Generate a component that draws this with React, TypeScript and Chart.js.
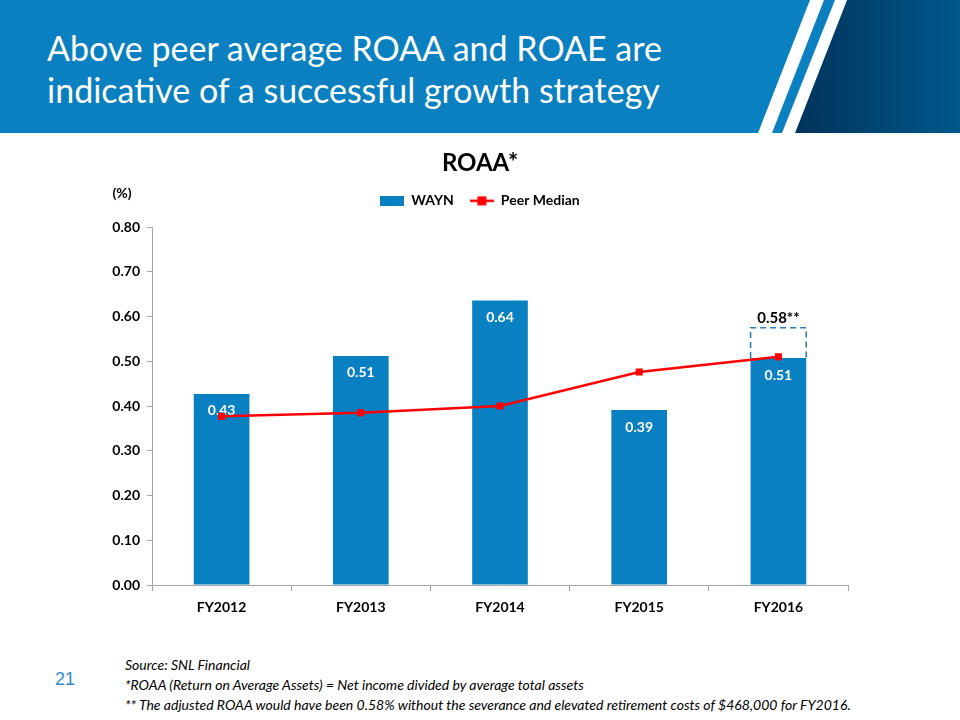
import React, { useEffect, useRef } from "react";
import { Chart, registerables } from "chart.js";

Chart.register(...registerables);

const categories = ["FY2012", "FY2013", "FY2014", "FY2015", "FY2016"];
const waynValues = [0.427, 0.512, 0.636, 0.391, 0.507];
const peerMedianValues = [0.377, 0.385, 0.4, 0.476, 0.51];
const yTickMin = 0;
const yTickMax = 0.8;
const yTickStep = 0.1;
const adjustedIndex = 4;
const adjustedValue = 0.575;
const adjustedLabel = "0.58**";

const titleLines = ["Above peer average ROAA and ROAE are", "indicative of a successful growth strategy"];
const footnotes = [
  "Source: SNL Financial",
  "*ROAA (Return on Average Assets) = Net income divided by average total assets",
  "** The adjusted ROAA would have been 0.58% without the severance and elevated retirement costs of $468,000 for FY2016.",
];
const pageNumber = "21";

const FONT = "Lato, 'Noto Sans', sans-serif";
const BAR_COLOR = "#0880c1";
const LINE_COLOR = "#ff0000";

function makeLegendIcon(kind: "bar" | "line"): HTMLCanvasElement {
  const c = document.createElement("canvas");
  c.width = 24;
  c.height = 10;
  const g = c.getContext("2d")!;
  if (kind === "bar") {
    g.fillStyle = BAR_COLOR;
    g.fillRect(0, 0, 24, 10);
  } else {
    g.strokeStyle = LINE_COLOR;
    g.lineWidth = 2.5;
    g.beginPath();
    g.moveTo(0, 5);
    g.lineTo(24, 5);
    g.stroke();
    g.fillStyle = LINE_COLOR;
    g.fillRect(7.5, 0.5, 9, 9);
  }
  return c;
}

const extrasPlugin = {
  id: "extras",
  afterDatasetDraw(chart: any, args: any) {
    if (args.index !== 0) return;
    const ctx = chart.ctx;
    const meta = chart.getDatasetMeta(0);
    const yScale = chart.scales.y;
    ctx.save();
    ctx.font = `bold 14px ${FONT}`;
    ctx.fillStyle = "#ffffff";
    ctx.textAlign = "center";
    ctx.textBaseline = "middle";
    meta.data.forEach((bar: any, i: number) => {
      ctx.fillText(waynValues[i].toFixed(2), bar.x, bar.y + 17);
    });
    const bar = meta.data[adjustedIndex];
    const half = bar.width / 2;
    const yTop = yScale.getPixelForValue(adjustedValue);
    const yBot = bar.y;
    ctx.strokeStyle = "#2b7fb3";
    ctx.lineWidth = 1.6;
    ctx.setLineDash([6, 4]);
    ctx.beginPath();
    ctx.moveTo(bar.x - half, yBot);
    ctx.lineTo(bar.x - half, yTop);
    ctx.lineTo(bar.x + half, yTop);
    ctx.lineTo(bar.x + half, yBot);
    ctx.stroke();
    ctx.setLineDash([]);
    ctx.fillStyle = "#000000";
    ctx.font = `bold 15px ${FONT}`;
    ctx.textBaseline = "bottom";
    ctx.fillText(adjustedLabel, bar.x, yTop - 2);
    ctx.restore();
  },
  afterDraw(chart: any) {
    const ctx = chart.ctx;
    const area = chart.chartArea;
    ctx.save();
    ctx.font = `bold 14px ${FONT}`;
    ctx.fillStyle = "#000000";
    ctx.textAlign = "center";
    ctx.textBaseline = "middle";
    ctx.fillText("(%)", area.left - 30, area.top - 34);
    ctx.restore();
  },
};

function ChartView() {
  const ref = useRef<HTMLCanvasElement | null>(null);
  useEffect(() => {
    if (!ref.current) return;
    const barIcon = makeLegendIcon("bar");
    const lineIcon = makeLegendIcon("line");
    const chart = new Chart(ref.current, {
      type: "bar",
      data: {
        labels: categories,
        datasets: [
          {
            type: "bar",
            label: "WAYN",
            data: waynValues,
            backgroundColor: BAR_COLOR,
            borderWidth: 0,
            categoryPercentage: 1,
            barPercentage: 0.4,
            order: 1,
          },
          {
            type: "line",
            label: "Peer Median",
            data: peerMedianValues,
            borderColor: LINE_COLOR,
            backgroundColor: LINE_COLOR,
            borderWidth: 2.5,
            pointStyle: "rect",
            pointRadius: 5,
            pointBackgroundColor: LINE_COLOR,
            pointBorderWidth: 0,
            tension: 0,
            order: 0,
          },
        ] as any,
      },
      plugins: [extrasPlugin],
      options: {
        animation: false,
        responsive: false,
        maintainAspectRatio: false,
        layout: { padding: { left: 112, right: 112, top: 0, bottom: 15 } },
        plugins: {
          title: {
            display: true,
            text: "ROAA*",
            color: "#000000",
            font: { family: FONT, size: 24, weight: "bold" },
            padding: { top: 9, bottom: 0 },
          },
          subtitle: {
            display: true,
            text: " ",
            weight: 500,
            font: { size: 1 },
            padding: { top: 4, bottom: 4 },
          },
          legend: {
            display: true,
            labels: {
              color: "#000000",
              font: { family: FONT, size: 14, weight: "bold" },
              usePointStyle: true,
              pointStyleWidth: 24,
              boxWidth: 24,
              boxHeight: 10,
              padding: 16,
              generateLabels() {
                return [
                  {
                    text: "WAYN",
                    fillStyle: BAR_COLOR,
                    strokeStyle: BAR_COLOR,
                    lineWidth: 0,
                    pointStyle: barIcon,
                    datasetIndex: 0,
                    fontColor: "#000000",
                  },
                  {
                    text: "Peer Median",
                    fillStyle: LINE_COLOR,
                    strokeStyle: LINE_COLOR,
                    lineWidth: 0,
                    pointStyle: lineIcon,
                    datasetIndex: 1,
                    fontColor: "#000000",
                  },
                ];
              },
            },
          },
          tooltip: { enabled: false },
        },
        scales: {
          x: {
            type: "category",
            offset: true,
            grid: {
              display: true,
              drawOnChartArea: false,
              drawTicks: true,
              tickLength: 6,
              color: "#a6a6a6",
              offset: true,
            },
            border: { display: true, color: "#a6a6a6", width: 1 },
            ticks: {
              color: "#000000",
              font: { family: FONT, size: 14, weight: "bold" },
              padding: 8,
            },
            afterFit(axis: any) {
              axis.height = 40;
            },
          },
          y: {
            type: "linear",
            min: yTickMin,
            max: yTickMax,
            grid: {
              display: true,
              drawOnChartArea: false,
              drawTicks: true,
              tickLength: 5,
              color: "#a6a6a6",
            },
            border: { display: true, color: "#a6a6a6", width: 1 },
            ticks: {
              stepSize: yTickStep,
              color: "#000000",
              font: { family: FONT, size: 14, weight: "bold" },
              padding: 7,
              callback: (v: any) => Number(v).toFixed(2),
            },
            afterFit(axis: any) {
              axis.width = 40;
            },
          },
        },
      } as any,
    });
    return () => chart.destroy();
  }, []);
  return <canvas ref={ref} width={960} height={500} style={{ position: "absolute", left: 0, top: 140, width: 960, height: 500 }} />;
}

function Header() {
  return (
    <svg width={960} height={134} style={{ position: "absolute", left: 0, top: 0 }}>
      <defs>
        <linearGradient id="dark" x1="795" y1="0" x2="960" y2="0" gradientUnits="userSpaceOnUse">
          <stop offset="0" stopColor="#00335a" />
          <stop offset="1" stopColor="#00588c" />
        </linearGradient>
      </defs>
      <rect x={0} y={0} width={960} height={133} fill="#0a80c1" />
      <polygon points="847,0 960,0 960,133 795,133" fill="url(#dark)" />
      <polygon points="810,0 824,0 772,133 758,133" fill="#ffffff" />
      <polygon points="835,0 847,0 795,133 782,133" fill="#ffffff" />
      {titleLines.map((t, i) => (
        <text key={i} x={47} y={61 + i * 42} fill="#ffffff" fontFamily={FONT} fontSize={34}>
          {t}
        </text>
      ))}
    </svg>
  );
}

export default function App() {
  return (
    <div style={{ position: "absolute", left: 0, top: 0, width: 960, height: 720, background: "#ffffff", overflow: "hidden" }}>
      <Header />
      <ChartView />
      <div style={{ position: "absolute", left: 55, top: 669, fontFamily: "'Liberation Sans', Arial, sans-serif", fontSize: 18, color: "#2f8fc5" }}>
        {pageNumber}
      </div>
      <div style={{ position: "absolute", left: 125, top: 655, fontFamily: FONT, fontStyle: "italic", fontSize: 14, lineHeight: "20px", color: "#000000", whiteSpace: "nowrap" }}>
        {footnotes.map((f, i) => (
          <div key={i}>{f}</div>
        ))}
      </div>
    </div>
  );
}
